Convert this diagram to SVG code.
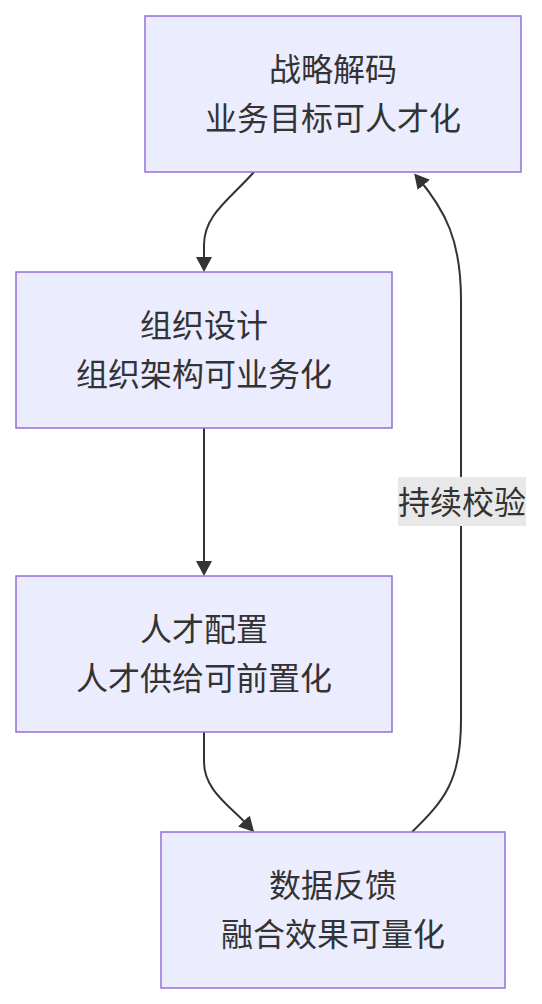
<svg xmlns="http://www.w3.org/2000/svg" width="542" height="1004" viewBox="0 0 542 1004">
<style>
.node rect{fill:#ECECFF;stroke:#9370DB;stroke-width:1.5}
.node text,.lbl text{font-family:"Noto Sans CJK SC","Noto Sans",sans-serif;font-size:32px;fill:#333;text-anchor:middle}
.edge{fill:none;stroke:#333;stroke-width:2}
.lbl rect{fill:#e8e8e8}
</style>
<defs>
<marker id="arr" viewBox="0 0 10 10" refX="6" refY="5" markerWidth="15" markerHeight="16" preserveAspectRatio="none" markerUnits="userSpaceOnUse" orient="auto">
<path d="M0,0 L10,5 L0,10 z" fill="#333"/>
</marker>
</defs>
<rect width="542" height="1004" fill="#fff"/>
<g id="edges">
<path class="edge" d="M254,172 C229,200 204,215 204,245 L204,266" marker-end="url(#arr)"/>
<path class="edge" d="M204,428 L204,570" marker-end="url(#arr)"/>
<path class="edge" d="M204,732 L204,762 C204,790 229,805 250,827.5" marker-end="url(#arr)"/>
<path class="edge" d="M412,832 C445,800 461,780 461,720 L461,300 C461,240 445,210 418,178" marker-end="url(#arr)"/>
</g>
<g id="edge-label" class="lbl">
<rect x="398" y="477" width="128" height="49"/>
<text x="462" y="514">持续校验</text>
</g>
<g id="node-A" class="node">
<rect x="145" y="16" width="376" height="156"/>
<text x="333" y="81">战略解码</text>
<text x="333" y="130">业务目标可人才化</text>
</g>
<g id="node-B" class="node">
<rect x="16" y="272" width="376" height="156"/>
<text x="204" y="337">组织设计</text>
<text x="204" y="386">组织架构可业务化</text>
</g>
<g id="node-C" class="node">
<rect x="16" y="576" width="376" height="156"/>
<text x="204" y="641">人才配置</text>
<text x="204" y="690">人才供给可前置化</text>
</g>
<g id="node-D" class="node">
<rect x="161" y="832" width="344" height="156"/>
<text x="333" y="897">数据反馈</text>
<text x="333" y="946">融合效果可量化</text>
</g>
</svg>
